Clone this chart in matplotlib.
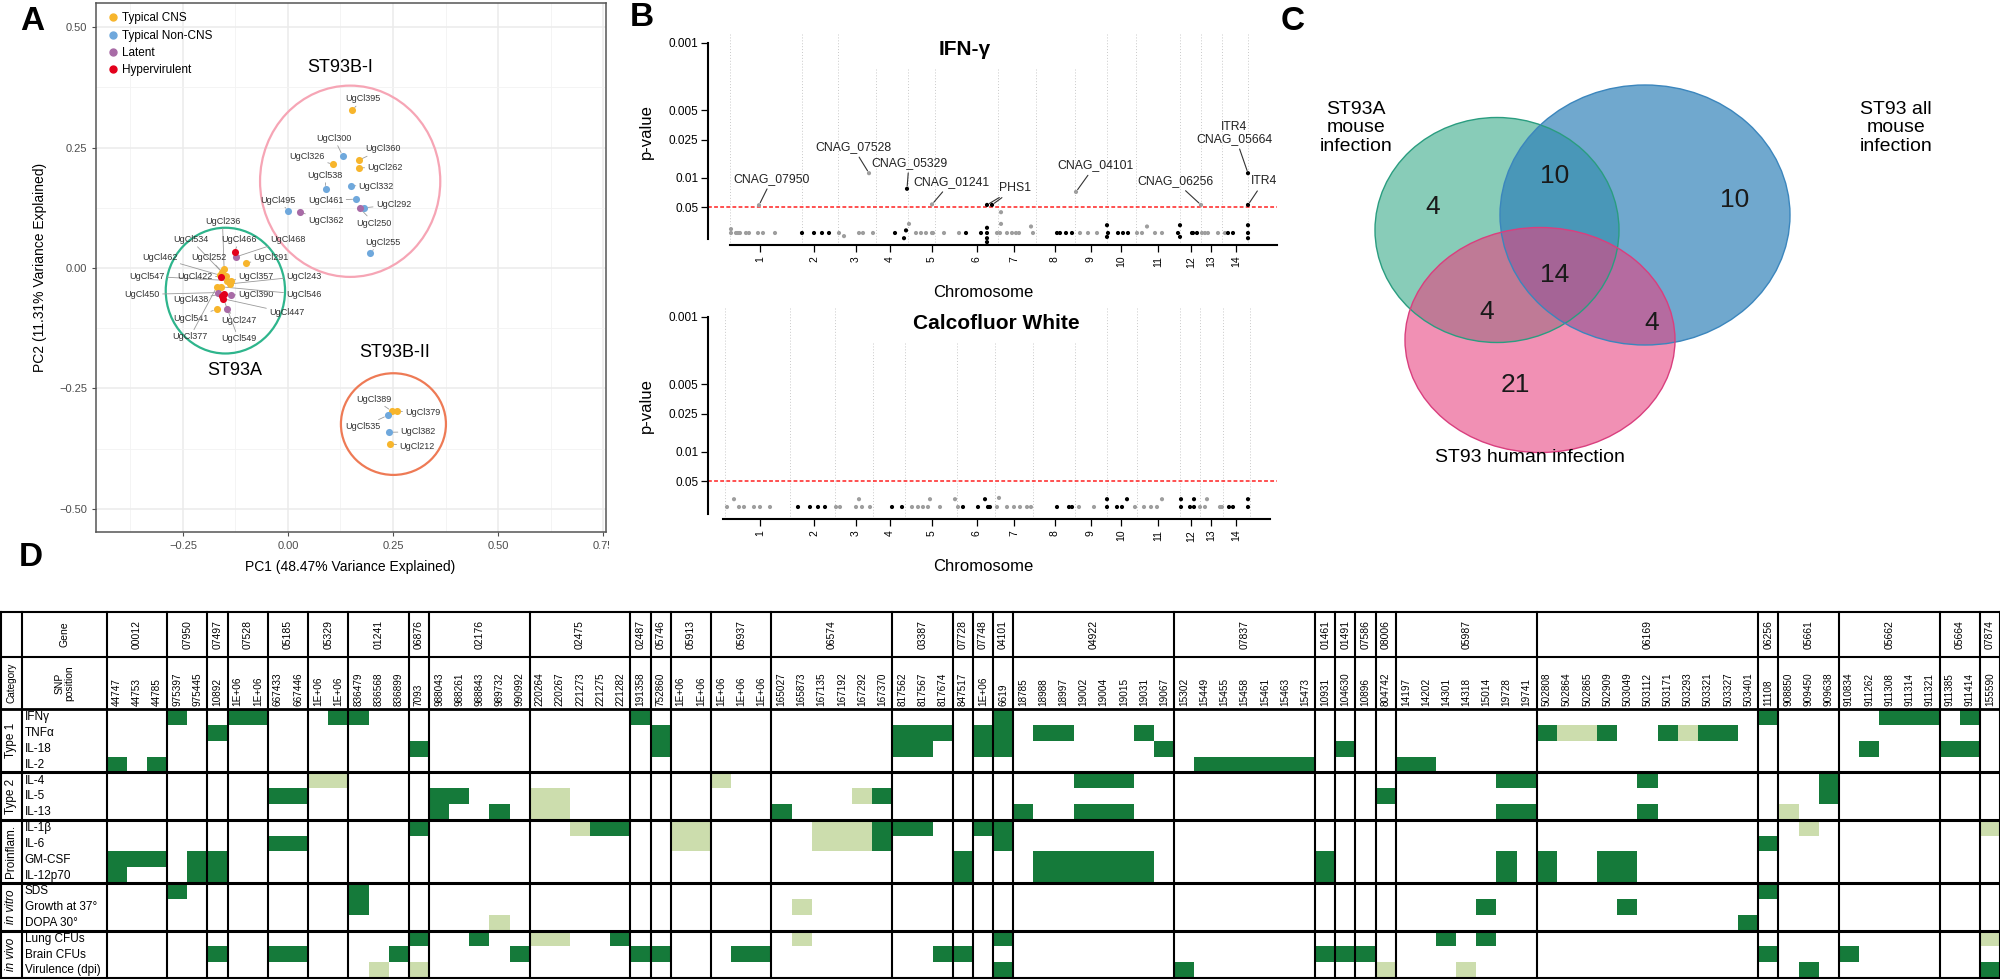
import matplotlib
matplotlib.use('Agg')
import matplotlib.pyplot as plt
from matplotlib.patches import Ellipse, Rectangle
from matplotlib.lines import Line2D
from matplotlib.transforms import Bbox

plt.rcParams['font.family'] = ['Liberation Sans', 'DejaVu Sans']

# ---------------- panel A : PCA of isolates ----------------
pca_names = ['UgCl395', 'UgCl300', 'UgCl360', 'UgCl326', 'UgCl262', 'UgCl538', 'UgCl332',
             'UgCl461', 'UgCl292', 'UgCl250', 'UgCl495', 'UgCl362', 'UgCl255',
             'UgCl236', 'UgCl534', 'UgCl466', 'UgCl468', 'UgCl462', 'UgCl252', 'UgCl291',
             'UgCl547', 'UgCl422', 'UgCl357', 'UgCl243', 'UgCl450', 'UgCl438', 'UgCl390',
             'UgCl546', 'UgCl447', 'UgCl541', 'UgCl247', 'UgCl377', 'UgCl549',
             'UgCl389', 'UgCl379', 'UgCl535', 'UgCl382', 'UgCl212']
pca_type = ['CNS', 'NonCNS', 'CNS', 'CNS', 'CNS', 'NonCNS', 'NonCNS', 'NonCNS', 'NonCNS',
            'Latent', 'NonCNS', 'Latent', 'NonCNS',
            'CNS', 'CNS', 'Hyper', 'Latent', 'CNS', 'CNS', 'CNS', 'CNS', 'Hyper', 'CNS', 'CNS',
            'Latent', 'Hyper', 'Latent', 'CNS', 'Hyper', 'CNS', 'Latent', 'CNS', 'Hyper',
            'CNS', 'CNS', 'NonCNS', 'NonCNS', 'CNS']
pca_pc1 = [0.153, 0.130, 0.169, 0.108, 0.169, 0.090, 0.149, 0.162, 0.182, 0.171, 0.001, 0.029, 0.195,
           -0.152, -0.158, -0.127, -0.124, -0.162, -0.148, -0.101, -0.144, -0.160, -0.136, -0.138,
           -0.166, -0.152, -0.136, -0.160, -0.154, -0.170, -0.146, -0.170, -0.156,
           0.247, 0.260, 0.237, 0.240, 0.243]
pca_pc2 = [0.328, 0.233, 0.224, 0.215, 0.208, 0.164, 0.171, 0.143, 0.125, 0.124, 0.119, 0.116, 0.032,
           -0.003, -0.008, 0.033, 0.023, -0.015, -0.017, 0.010, -0.026, -0.018, -0.026, -0.033,
           -0.051, -0.053, -0.056, -0.039, -0.064, -0.086, -0.086, -0.040, -0.058,
           -0.297, -0.297, -0.306, -0.341, -0.365]
label_pc1 = [0.179, 0.110, 0.225, 0.046, 0.231, 0.088, 0.210, 0.090, 0.251, 0.205, -0.025, 0.090, 0.225,
             -0.156, -0.232, -0.116, 0.001, -0.305, -0.188, -0.040, -0.336, -0.221, -0.076, 0.038,
             -0.347, -0.232, -0.076, 0.038, -0.003, -0.232, -0.118, -0.233, -0.118,
             0.205, 0.321, 0.179, 0.310, 0.307]
label_pc2 = [0.351, 0.269, 0.247, 0.231, 0.208, 0.192, 0.169, 0.140, 0.131, 0.093, 0.141, 0.098, 0.053,
             0.097, 0.059, 0.059, 0.059, 0.021, 0.021, 0.021, -0.017, -0.017, -0.017, -0.017,
             -0.055, -0.066, -0.055, -0.055, -0.093, -0.104, -0.109, -0.143, -0.147,
             -0.272, -0.301, -0.330, -0.340, -0.371]
type_keys = ['CNS', 'NonCNS', 'Latent', 'Hyper']
type_names = ['Typical CNS', 'Typical Non-CNS', 'Latent', 'Hypervirulent']
type_colors = ['#F7B52C', '#6FA8DC', '#A86BA6', '#E3001B']

clusters = ['ST93B-I', 'ST93A', 'ST93B-II']
cluster_cx = [0.148, -0.149, 0.251]
cluster_cy = [0.180, -0.047, -0.324]
cluster_w = [0.429, 0.284, 0.250]
cluster_h = [0.397, 0.261, 0.211]
cluster_lab_x = [0.124, -0.126, 0.255]
cluster_lab_y = [0.417, -0.212, -0.176]
cluster_colors = ['#F6A5B5', '#2EB58C', '#EE7A55']

# ---------------- panel B : GWAS manhattan plots ----------------
chrom_centre = [4.0, 9.4, 13.6, 17.0, 21.2, 25.7, 29.4, 33.5, 37.1, 40.1, 43.8, 47.1, 49.1, 51.6]
chrom_names = ['1', '2', '3', '4', '5', '6', '7', '8', '9', '10', '11', '12', '13', '14']
ptick_pos = [1.0, 2.12, 3.58, 4.73, 7.31]
ptick_lab = ['0.05', '0.01', '0.025', '0.005', '0.001']

ifng_chrom = [1, 1, 1, 1, 1, 1, 1, 1, 1, 1, 1,
              2, 2, 2, 2,
              3, 3, 3, 3, 3, 3,
              4, 4, 4, 4,
              5, 5, 5, 5, 5, 5, 5, 5, 5,
              6, 6, 6, 6, 6, 6, 6, 6,
              7, 7, 7, 7, 7, 7, 7, 7, 7, 7,
              8, 8, 8, 8,
              9, 9, 9, 9,
              10, 10, 10, 10, 10, 10,
              11, 11, 11, 11, 11,
              12, 12, 12, 12, 12, 12,
              13, 13, 13, 13, 13, 13,
              14, 14, 14, 14, 14, 14, 14]
ifng_pos = [1.1, 1.1, 1.6, 1.8, 2.0, 2.6, 2.9, 3.8, 4.3, 5.5, 3.9,
            8.2, 9.4, 10.2, 10.9,
            11.9, 12.4, 13.9, 14.3, 15.3, 14.9,
            17.5, 18.4, 18.6, 18.7,
            18.9, 19.6, 20.1, 20.6, 21.2, 21.3, 22.4, 23.9, 21.2,
            24.6, 26.1, 26.7, 26.7, 26.7, 26.7, 26.7, 27.2,
            27.7, 28.0, 28.1, 28.1, 28.7, 29.2, 29.6, 29.9, 31.1, 31.3,
            33.7, 34.0, 34.6, 35.2,
            35.6, 36.0, 36.8, 37.7,
            38.7, 38.8, 38.7, 39.8, 40.3, 40.8,
            41.7, 42.2, 42.7, 43.5, 44.2,
            45.8, 46.0, 46.0, 47.2, 47.3, 47.7,
            48.1, 48.2, 48.5, 48.8, 49.8, 50.5,
            50.8, 51.3, 52.8, 52.8, 52.8, 52.8, 52.8]
ifng_score = [0, 0.15, 0, 0, 0, 0, 0, 0, 0, 0, 1.07,
              0, 0, 0, 0,
              0, -0.12, 0, 0, 0, 2.3,
              0, -0.2, 0.1, 1.7,
              0.35, 0, 0, 0, 0, 0, 0, 0, 1.1,
              0, 0, 0, 0.2, -0.2, -0.35, 1.08, 1.08,
              0, 0, 0.35, 0.8, 0, 0, 0, 0, 0.25, 0,
              0, 0, 0, 0,
              1.58, 0, 0, 0,
              0.3, 0, -0.15, 0, 0, 0,
              0, 0, 0.25, 0, 0,
              0, 0.3, -0.15, 0, 0, 0,
              1.08, 0, 0, 0, 0, 0,
              0, 0, 0, 0.3, -0.2, 1.08, 2.3]
ifng_grid = [1.0, 8.2, 11.8, 15.6, 18.8, 21.5, 27.8, 31.6, 35.5, 38.7, 41.6, 46.0, 48.1, 50.2, 52.8]
ifng_labels = ['CNAG_07950', 'CNAG_07528', 'CNAG_05329', 'CNAG_01241', 'PHS1', 'PHS1',
               'CNAG_04101', 'CNAG_06256', 'ITR4\nCNAG_05664', 'ITR4']
ifng_lab_pos = [3.9, 14.9, 18.7, 21.2, 26.7, 27.2, 35.6, 48.1, 52.8, 52.8]
ifng_lab_score = [1.07, 2.3, 1.7, 1.1, 1.08, 1.08, 1.58, 1.08, 2.3, 1.08]
ifng_text_pos = [5.2, 13.3, 18.9, 23.1, 29.5, 29.5, 37.5, 45.5, 51.4, 54.4]
ifng_text_score = [2.08, 3.3, 2.7, 1.96, 1.73, 1.73, 2.6, 2.0, 3.85, 2.0]

cfw_chrom = [1, 1, 1, 1, 1, 1, 1,
             2, 2, 2, 2,
             3, 3, 3, 3, 3, 3,
             4, 4,
             5, 5, 5, 5, 5, 5, 5, 5,
             6, 6, 6, 6, 6,
             7, 7, 7, 7, 7, 7, 7,
             8, 8, 8,
             9, 9,
             10, 10, 10, 10, 10,
             11, 11, 11, 11, 11,
             12, 12, 12, 12, 12,
             13, 13, 13, 13, 13,
             14, 14, 14, 14]
cfw_pos = [0.7, 1.4, 1.9, 2.4, 3.4, 4.0, 5.0,
           7.8, 9.0, 9.8, 10.5,
           11.6, 12.0, 13.6, 13.9, 14.2, 15.0,
           17.2, 18.2,
           19.2, 19.8, 20.3, 20.8, 21.0, 22.0, 23.5, 23.8,
           24.3, 25.8, 26.5, 26.8, 27.0,
           27.7, 27.9, 28.7, 29.4, 30.0, 30.7, 31.1,
           33.7, 34.9, 35.2,
           35.9, 37.4,
           38.7, 38.7, 39.7, 40.2, 40.7,
           41.5, 42.4, 43.1, 43.7, 44.2,
           46.1, 46.1, 47.0, 47.4, 47.4,
           48.0, 48.5, 48.7, 50.0, 50.2,
           50.9, 51.3, 52.8, 52.8]
cfw_score = [0, 0.3, 0, 0, 0, 0, 0,
             0, 0, 0, 0,
             0, 0, 0, 0.3, 0, 0,
             0, 0,
             0, 0, 0, 0, 0.3, 0, 0.3, 0,
             0, 0, 0.3, 0, 0,
             0, 0.35, 0, 0, 0, 0, 0,
             0, 0, 0,
             0, 0,
             0, 0.3, 0, 0, 0.3,
             0, 0, 0, 0, 0.3,
             0, 0.3, 0, 0, 0.3,
             0, 0, 0.3, 0, 0,
             0, 0, 0, 0.3]
cfw_grid = [0.5, 7.0, 11.5, 15.3, 18.5, 23.7, 27.5, 31.3, 35.5, 38.7, 41.7, 46.0, 48.0, 50.3, 53.0]

# ---------------- panel C : Venn ----------------
venn_sets = ['ST93A\nmouse\ninfection', 'ST93 all\nmouse\ninfection', 'ST93 human infection']
venn_counts = [4, 10, 10, 14, 4, 4, 21]   # A, A&B, B, A&B&C, A&C, B&C, C

# ---------------- panel D : table ----------------
genes = ['00012', '07950', '07497', '07528', '05185', '05329', '01241', '06876', '02176', '02475',
         '02487', '05746', '05913', '05937', '06574', '03387', '07728', '07748', '04101', '04922',
         '07837', '01461', '01491', '07586', '08006', '05987', '06169', '06256', '05661', '05662',
         '05664', '07874']
snps = [['44747', '44753', '44785'], ['975397', '975445'], ['10892'], ['1E+06', '1E+06'],
        ['667433', '667446'], ['1E+06', '1E+06'], ['836479', '836568', '836899'], ['7093'],
        ['988043', '988261', '988843', '989732', '990992'],
        ['220264', '220267', '221273', '221275', '221282'], ['191358'], ['752860'],
        ['1E+06', '1E+06'], ['1E+06', '1E+06', '1E+06'],
        ['165027', '165873', '167135', '167192', '167292', '167370'],
        ['817562', '817567', '817674'], ['847517'], ['1E+06'], ['6619'],
        ['18785', '18988', '18997', '19002', '19004', '19015', '19031', '19067'],
        ['15302', '15449', '15455', '15458', '15461', '15463', '15473'], ['10931'], ['104630'],
        ['10896'], ['804742'], ['14197', '14202', '14301', '14318', '15014', '19728', '19741'],
        ['502808', '502864', '502865', '502909', '503049', '503112', '503171', '503293', '503321',
         '503327', '503401'],
        ['11108'], ['908850', '909450', '909638'], ['910834', '911262', '911308', '911314', '911321'],
        ['911385', '911414'], ['155590']]
phenotypes = ['IFNγ', 'TNFα', 'IL-18', 'IL-2', 'IL-4', 'IL-5', 'IL-13', 'IL-1β', 'IL-6', 'GM-CSF',
              'IL-12p70', 'SDS', 'Growth at 37°', 'DOPA 30°', 'Lung CFUs', 'Brain CFUs', 'Virulence (dpi)']
categories = ['Type 1', 'Type 2', 'Proinflam.', 'in vitro', 'in vivo']
category_rows = [4, 3, 4, 3, 3]
strong_hits = [[3, 6, 7, 11, 12, 26, 44, 82, 88, 89, 90, 92],
               [5, 27, 39, 40, 41, 43, 44, 46, 47, 51, 71, 74, 77, 79, 80],
               [15, 27, 39, 40, 43, 44, 52, 61, 87, 91, 92],
               [0, 2, 54, 55, 56, 57, 58, 59, 64, 65],
               [48, 49, 50, 69, 70, 76, 85],
               [8, 9, 16, 17, 38, 63, 85],
               [16, 19, 33, 45, 48, 49, 50, 69, 70, 76],
               [15, 24, 25, 38, 39, 40, 43, 44],
               [8, 9, 38, 44, 82],
               [0, 1, 2, 4, 5, 42, 46, 47, 48, 49, 50, 51, 60, 69, 71, 74, 75],
               [0, 4, 5, 42, 46, 47, 48, 49, 50, 51, 60, 69, 71, 74, 75],
               [3, 12, 82],
               [12, 68, 75],
               [81],
               [15, 18, 25, 44, 66, 68],
               [5, 8, 9, 14, 20, 26, 27, 31, 32, 41, 42, 60, 61, 62, 82, 86],
               [44, 53, 84, 93]]
weak_hits = [[], [72, 73, 78], [], [],
             [10, 11, 30], [21, 22, 37], [21, 22, 83],
             [23, 28, 29, 35, 36, 37, 84, 93], [28, 29, 35, 36, 37], [], [],
             [], [34], [19],
             [21, 22, 34, 93], [], [13, 15, 63, 67]]

W, H = 2000, 980
fig = plt.figure(figsize=(20, 9.8), dpi=100)


def box(x0, y0, x1, y1):
    return [x0 / W, 1 - y1 / H, (x1 - x0) / W, (y1 - y0) / H]


# ===== A =====
axA = fig.add_axes(box(96, 3, 606, 532))
axA.set_xlim(-0.457, 0.757)
axA.set_ylim(-0.548, 0.550)
axA.set_xticks([-0.25, 0, 0.25, 0.5, 0.75], ['\u22120.25', '0.00', '0.25', '0.50', '0.75'])
axA.set_xticks([-0.375, -0.125, 0.125, 0.375, 0.625], minor=True)
axA.set_yticks([-0.5, -0.25, 0, 0.25, 0.5], ['\u22120.50', '\u22120.25', '0.00', '0.25', '0.50'])
axA.set_yticks([-0.375, -0.125, 0.125, 0.375], minor=True)
axA.grid(which='major', color='#EBEBEB', lw=1.1)
axA.grid(which='minor', color='#F3F3F3', lw=0.6)
axA.set_axisbelow(True)
axA.tick_params(which='major', colors='#4D4D4D', labelsize=8, length=3)
axA.tick_params(which='minor', length=0)
for s in axA.spines.values():
    s.set_color('#555555')
    s.set_linewidth(1.1)
axA.set_xlabel('PC1 (48.47% Variance Explained)', fontsize=10)
axA.set_ylabel('PC2 (11.31% Variance Explained)', fontsize=10)
axA.xaxis.set_label_coords(0.498, -0.053)
axA.yaxis.set_label_coords(-0.096, 0.5)
# the last x label is cut by the panel edge in the figure
last_lab = axA.get_xticklabels()[-1]
last_lab.set_clip_box(Bbox.from_extents(0, 0, 609, H))
last_lab.set_clip_on(True)

for i in range(len(clusters)):
    axA.add_patch(Ellipse((cluster_cx[i], cluster_cy[i]), cluster_w[i], cluster_h[i],
                          fill=False, ec=cluster_colors[i], lw=1.6, zorder=2))
    axA.text(cluster_lab_x[i], cluster_lab_y[i], clusters[i], fontsize=13,
             ha='center', va='center')

for i, name in enumerate(pca_names):
    axA.annotate(name, xy=(pca_pc1[i], pca_pc2[i]), xytext=(label_pc1[i], label_pc2[i]),
                 fontsize=6.5, color='#333333', ha='center', va='center', zorder=3,
                 arrowprops=dict(arrowstyle='-', color='#9A9A9A', lw=0.6, shrinkA=0, shrinkB=2.5))

handles = []
for k, key in enumerate(type_keys):
    xs = [pca_pc1[i] for i in range(len(pca_names)) if pca_type[i] == key]
    ys = [pca_pc2[i] for i in range(len(pca_names)) if pca_type[i] == key]
    axA.scatter(xs, ys, s=26, color=type_colors[k], zorder=4, linewidths=0)
    handles.append(Line2D([], [], marker='o', ls='', color=type_colors[k], markersize=5,
                          label=type_names[k]))
axA.legend(handles=handles, loc='upper left', bbox_to_anchor=(0.0, 1.0), frameon=False,
           fontsize=8.5, handletextpad=0.1, labelspacing=0.45, handlelength=1.3,
           borderaxespad=0.4)


# ===== B =====
def manhattan(ax, chrom, pos, score, grid, title, title_x, axis_span):
    ax.set_xlim(-3, 57)
    ax.set_ylim(-0.7, 7.8)
    for g in grid:
        ax.plot([g, g], [-0.45, 7.7], ls=(0, (1, 2)), color='#C9C9C9', lw=0.7, zorder=0)
    ax.add_patch(Rectangle((15.0, 6.3), 22.5, 1.6, fc='white', ec='none', zorder=0.5))
    ax.plot([-1.2, 55.7], [1.0, 1.0], color='#FF2020', ls=(0, (2.5, 1.5)), lw=1.1, zorder=1)
    cols = ['#000000' if c % 2 == 0 else '#9E9E9E' for c in chrom]
    ax.scatter(pos, score, s=9, c=cols, linewidths=0, zorder=3)
    ax.text(title_x, 7.05, title, fontsize=15, fontweight='bold', ha='center', va='center')
    ax.text(-7.4, 3.9, 'p-value', fontsize=12, rotation=90, ha='center', va='center')
    ax.text(26.3, -2.3, 'Chromosome', fontsize=12, ha='center', va='center')
    for side in ['top', 'right']:
        ax.spines[side].set_visible(False)
    ax.spines['left'].set_position(('data', -1.2))
    ax.spines['left'].set_bounds(-0.25, 7.31)
    ax.spines['bottom'].set_position(('data', -0.45))
    ax.spines['bottom'].set_bounds(axis_span[0], axis_span[1])
    for side in ['left', 'bottom']:
        ax.spines[side].set_linewidth(1.5)
    ax.set_yticks(ptick_pos, ptick_lab)
    ax.set_xticks(chrom_centre, chrom_names, rotation=90)
    ax.tick_params(axis='y', length=5, width=0.9, labelsize=8.5, pad=2)
    ax.tick_params(axis='x', length=5, width=0.9, labelsize=7.5, pad=3)
    ax.patch.set_alpha(0)


axB1 = fig.add_axes(box(690, 30.2, 1290, 251.2))
manhattan(axB1, ifng_chrom, ifng_pos, ifng_score, ifng_grid, 'IFN-γ', 24.5, (1.0, 55.7))
for i, lab in enumerate(ifng_labels):
    axB1.annotate(lab, xy=(ifng_lab_pos[i], ifng_lab_score[i]),
                  xytext=(ifng_text_pos[i], ifng_text_score[i]), fontsize=8.8,
                  color='#222222' if i != 5 else 'none', ha='center', va='center',
                  linespacing=1.0, zorder=4,
                  arrowprops=dict(arrowstyle='-', color='#333333', lw=0.8, shrinkA=1, shrinkB=2))

axB2 = fig.add_axes(box(690, 304.2, 1290, 525.2))
manhattan(axB2, cfw_chrom, cfw_pos, cfw_score, cfw_grid, 'Calcofluor White', 27.6, (0.3, 55.0))

# ===== C =====
axC = fig.add_axes(box(1280, 0, 2000, 480))
axC.set_xlim(1280, 2000)
axC.set_ylim(480, 0)
axC.axis('off')
circ_xy = [(1497, 230), (1645, 215), (1540, 340)]
circ_wh = [(244, 225), (290, 260), (270, 225)]
circ_fill = ['#1B9E77', '#2C7FB8', '#E8407F']
circ_alpha = [0.52, 0.68, 0.58]
circ_edge = ['#2A9D80', '#3B86BD', '#D93F7E']
for i in range(3):
    axC.add_patch(Ellipse(circ_xy[i], circ_wh[i][0], circ_wh[i][1], fc=circ_fill[i],
                          alpha=circ_alpha[i], ec='none'))
for i in range(3):
    axC.add_patch(Ellipse(circ_xy[i], circ_wh[i][0], circ_wh[i][1], fill=False,
                          ec=circ_edge[i], lw=1))
venn_x = [1433, 1555, 1735, 1555, 1487, 1652, 1515]
venn_y = [207, 176, 200, 275, 312, 323, 385]
for i, n in enumerate(venn_counts):
    axC.text(venn_x[i], venn_y[i], str(n), fontsize=19, ha='center', va='center', color='#1A1A1A')
axC.text(1356, 128, venn_sets[0], fontsize=14, ha='center', va='center', linespacing=1.15)
axC.text(1896, 128, venn_sets[1], fontsize=14, ha='center', va='center', linespacing=1.15)
axC.text(1530, 458, venn_sets[2], fontsize=14, ha='center', va='center')

# ===== D =====
axD = fig.add_axes(box(0, 611, 2000, 979.6))
axD.set_xlim(-5.3, 94.0)
axD.set_ylim(17.1, -6.2)
axD.axis('off')
dark_green = '#157A3A'
light_green = '#CCDDAD'
for r in range(len(phenotypes)):
    for c in strong_hits[r]:
        axD.add_patch(Rectangle((c, r), 1, 1, fc=dark_green, ec='none', zorder=1))
    for c in weak_hits[r]:
        axD.add_patch(Rectangle((c, r), 1, 1, fc=light_green, ec='none', zorder=1))

top, mid, x_left, x_cat = -6.14, -3.29, -5.25, -4.22
col = 0
for g, gene in enumerate(genes):
    n = len(snps[g])
    axD.text(col + n / 2, (top + mid) / 2, gene, rotation=90, fontsize=7.5, ha='center', va='center')
    for k, s in enumerate(snps[g]):
        axD.text(col + k + 0.5, -0.2, s, rotation=90, fontsize=7.2, ha='center', va='bottom')
    col += n
    axD.plot([col, col], [top, 17], color='black', lw=1.5, zorder=3, clip_on=False)
for x in [x_left, x_cat, 0]:
    axD.plot([x, x], [top, 17], color='black', lw=1.5, zorder=3, clip_on=False)

axD.text((x_cat + 0) / 2, (top + mid) / 2, 'Gene', rotation=90, fontsize=7.5, ha='center', va='center')
axD.text((x_cat + 0) / 2, mid / 2, 'SNP\nposition', rotation=90, fontsize=7.5, ha='center',
         va='center', linespacing=1.0)
axD.text((x_left + x_cat) / 2, mid / 2, 'Category', rotation=90, fontsize=7.2, ha='center', va='center')

for r, ph in enumerate(phenotypes):
    axD.text(x_cat + 0.15, r + 0.52, ph, fontsize=8.5, ha='left', va='center')

row0 = 0
for k, cat in enumerate(categories):
    style = 'italic' if cat.startswith('in ') else 'normal'
    axD.text((x_left + x_cat) / 2, row0 + category_rows[k] / 2, cat, rotation=90, fontsize=8.5,
             ha='center', va='center', style=style)
    row0 += category_rows[k]
    lw = 2.2 if row0 < 17 else 1.5
    axD.plot([x_left, 94], [row0, row0], color='black', lw=lw, zorder=3, clip_on=False)
for y, lw in [(top, 1.5), (mid, 1.5), (0, 2.0)]:
    axD.plot([x_left, 94], [y, y], color='black', lw=lw, zorder=3, clip_on=False)

# panel letters
for letter, x, y in [('A', 32, 22), ('B', 642, 17), ('C', 1293, 22), ('D', 31, 557)]:
    fig.text(x / W, 1 - y / H, letter, fontsize=24, fontweight='bold', ha='center', va='center')

fig.savefig('out.png', dpi=100)
